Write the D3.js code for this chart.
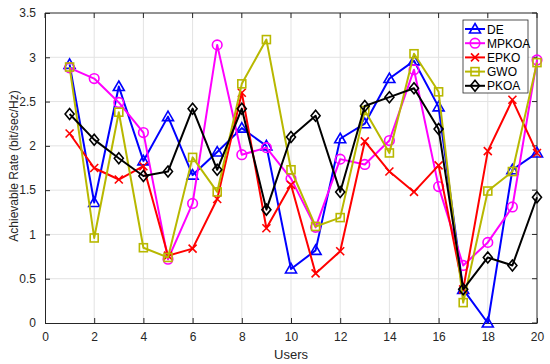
<!DOCTYPE html>
<html>
<head>
<meta charset="utf-8">
<script src="https://cdn.jsdelivr.net/npm/d3@7"></script>
<style>
  body { margin: 0; background: #fff; }
  svg { font-family: "Liberation Sans", Arial, sans-serif; }
</style>
</head>
<body>
<svg id="chart" width="550" height="364"></svg>
<script>
// Data
const users = d3.range(1, 21);
const DE    = [2.92, 1.36, 2.67, 1.83, 2.33, 1.67, 1.93, 2.20, 2.00, 0.61, 0.82, 2.08, 2.25, 2.76, 2.96, 2.44, 0.38, 0.00, 1.73, 1.92];
const MPKOA = [2.88, 2.76, 2.49, 2.15, 0.72, 1.35, 3.14, 1.90, 1.98, 1.63, 1.08, 1.85, 1.79, 2.06, 2.86, 1.54, 0.65, 0.91, 1.31, 2.97];
const EPKO  = [2.14, 1.75, 1.62, 1.77, 0.76, 0.84, 1.40, 2.60, 1.07, 1.56, 0.56, 0.81, 2.05, 1.71, 1.48, 1.78, 0.38, 1.94, 2.52, 1.92];
const GWO   = [2.89, 0.96, 2.38, 0.85, 0.74, 1.87, 1.48, 2.70, 3.20, 1.73, 1.09, 1.19, 2.40, 1.92, 3.04, 2.61, 0.23, 1.49, 1.71, 2.94];
const PKOA  = [2.36, 2.07, 1.86, 1.66, 1.71, 2.42, 1.73, 2.42, 1.28, 2.10, 2.34, 1.48, 2.45, 2.55, 2.65, 2.19, 0.38, 0.74, 0.65, 1.42];

const xTicks = [0, 2, 4, 6, 8, 10, 12, 14, 16, 18, 20];
const yTicks = [0, 0.5, 1, 1.5, 2, 2.5, 3, 3.5];

const series = [
  { name: "DE",    values: DE,    color: "#0000ff", marker: "triangle" },
  { name: "MPKOA", values: MPKOA, color: "#ff00ff", marker: "circle" },
  { name: "EPKO",  values: EPKO,  color: "#ff0000", marker: "cross" },
  { name: "GWO",   values: GWO,   color: "#b8b800", marker: "square" },
  { name: "PKOA",  values: PKOA,  color: "#000000", marker: "diamond" }
];

const margin = { top: 13, right: 13, bottom: 41, left: 45 };
const width = 550 - margin.left - margin.right;
const height = 364 - margin.top - margin.bottom;

const svg = d3.select("#chart");
const g = svg.append("g")
  .attr("transform", `translate(${ margin.left }, ${ margin.top })`);

const x = d3.scaleLinear().domain([0, 20]).range([0, width]);
const y = d3.scaleLinear().domain([0, 3.5]).range([height, 0]);

// grid
g.append("g")
  .selectAll("line")
  .data(xTicks.slice(1, -1))
  .join("line")
  .attr("x1", d => x(d)).attr("x2", d => x(d))
  .attr("y1", 0).attr("y2", height)
  .attr("stroke", "#e3e3e3");

g.append("g")
  .selectAll("line")
  .data(yTicks.slice(1, -1))
  .join("line")
  .attr("y1", d => y(d)).attr("y2", d => y(d))
  .attr("x1", 0).attr("x2", width)
  .attr("stroke", "#e3e3e3");

// axes
const xAxis = d3.axisBottom(x).tickValues(xTicks).tickSizeInner(-5).tickSizeOuter(0).tickPadding(9);
const yAxis = d3.axisLeft(y).tickValues(yTicks).tickSizeInner(-5).tickSizeOuter(0).tickPadding(9)
  .tickFormat(d3.format("~g"));

const gx = g.append("g").attr("transform", `translate(0, ${ height })`).call(xAxis);
const gy = g.append("g").call(yAxis);
[gx, gy].forEach(a => {
  a.selectAll("path, line").attr("stroke", "#262626");
  a.selectAll("text").attr("fill", "#262626").style("font-size", "12px");
});

// top and right box edges
g.append("line").attr("x1", 0).attr("x2", width).attr("y1", 0).attr("y2", 0).attr("stroke", "#262626");
g.append("line").attr("x1", width).attr("x2", width).attr("y1", 0).attr("y2", height).attr("stroke", "#262626");
// ticks along top and right
g.append("g").selectAll("line").data(xTicks).join("line")
  .attr("x1", d => x(d)).attr("x2", d => x(d)).attr("y1", 0).attr("y2", 5).attr("stroke", "#262626");
g.append("g").selectAll("line").data(yTicks).join("line")
  .attr("y1", d => y(d)).attr("y2", d => y(d)).attr("x1", width).attr("x2", width - 5).attr("stroke", "#262626");

// labels
g.append("text")
  .attr("x", width / 2).attr("y", height + 36)
  .attr("text-anchor", "middle")
  .style("font-size", "13px").attr("fill", "#262626")
  .text("Users");

g.append("text")
  .attr("transform", "rotate(-90)")
  .attr("x", -height / 2 + 2).attr("y", -27)
  .attr("text-anchor", "middle")
  .style("font-size", "12px").attr("fill", "#262626")
  .text("Achievable Rate (bit/sec/Hz)");

// marker drawer
function drawMarker(sel, type, color) {
  sel.each(function () {
    const m = d3.select(this);
    if (type === "triangle") {
      m.append("path").attr("d", "M0,-5.5L5.5,4L-5.5,4Z");
    } else if (type === "circle") {
      m.append("circle").attr("r", 4.8);
    } else if (type === "cross") {
      m.append("path").attr("d", "M-4,-4L4,4M-4,4L4,-4");
    } else if (type === "square") {
      m.append("rect").attr("x", -4).attr("y", -4).attr("width", 8).attr("height", 8);
    } else if (type === "diamond") {
      m.append("path").attr("d", "M0,-5.5L4.5,0L0,5.5L-4.5,0Z");
    }
    m.selectAll("*").attr("fill", "none").attr("stroke", color).attr("stroke-width", 1.6);
  });
}

const line = d3.line()
  .x((d, i) => x(users[i]))
  .y(d => y(d));

series.forEach(s => {
  const sg = g.append("g");
  sg.append("path")
    .datum(s.values)
    .attr("fill", "none")
    .attr("stroke", s.color)
    .attr("stroke-width", 2)
    .attr("stroke-linejoin", "round")
    .attr("d", line);

  sg.selectAll(".mk")
    .data(s.values)
    .join("g")
    .attr("class", "mk")
    .attr("transform", (d, i) => `translate(${ x(users[i]) }, ${ y(d) })`)
    .call(drawMarker, s.marker, s.color);
});

// legend
const legend = svg.append("g").attr("transform", "translate(463, 20)");
legend.append("rect")
  .attr("width", 65).attr("height", 73)
  .attr("fill", "#fff").attr("stroke", "#262626").attr("stroke-width", 0.8);

series.forEach((s, i) => {
  const row = legend.append("g").attr("transform", `translate(0, ${ 9 + i * 14.2 })`);
  row.append("line")
    .attr("x1", 2).attr("x2", 22)
    .attr("stroke", s.color).attr("stroke-width", 2);
  row.append("g").attr("transform", "translate(12, 0)").call(drawMarker, s.marker, s.color);
  row.append("text")
    .attr("x", 24).attr("y", 4.5)
    .style("font-size", "12px").attr("fill", "#000")
    .text(s.name);
});
</script>
</body>
</html>
